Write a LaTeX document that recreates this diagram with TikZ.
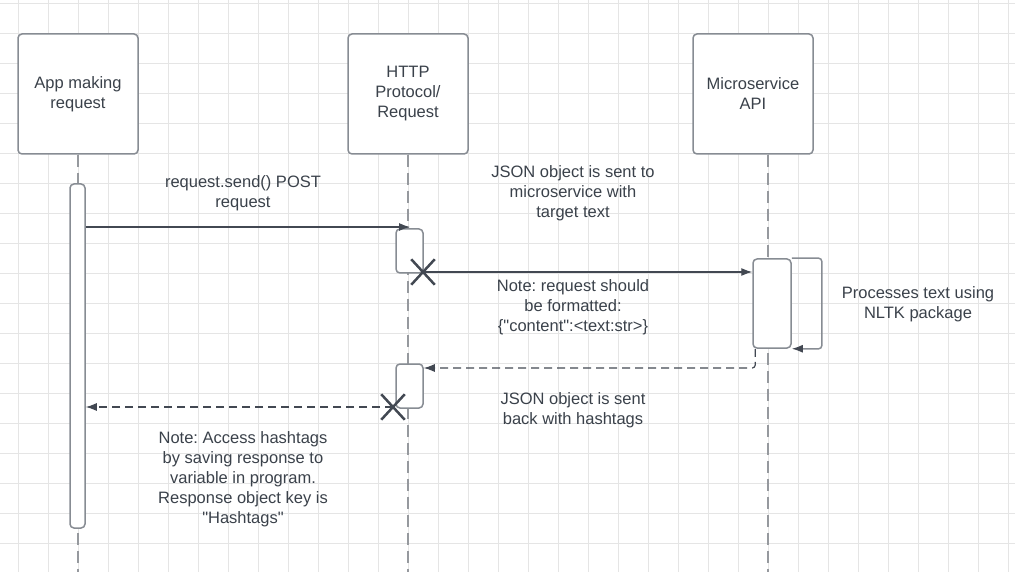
\documentclass[tikz,border=0pt]{standalone}
\usepackage{fontspec}
\setmainfont{Liberation Sans}
\usepackage{xcolor}
\definecolor{lc_text}{RGB}{58,65,74}
\definecolor{lc_box}{RGB}{135,140,147}
\definecolor{lc_line}{RGB}{66,72,82}
\definecolor{lc_life}{RGB}{150,153,158}
\definecolor{lc_grid}{RGB}{229,229,229}
\usetikzlibrary{arrows.meta, shapes.misc, calc}
\frenchspacing

\begin{document}
\begin{tikzpicture}[x=1pt,y=-1pt,font=\fontsize{16.5}{20}\selectfont,
    every node/.style={text=lc_text},
    actor/.style={draw=lc_box,line width=1.5pt,rounded corners=4pt,fill=white,
        minimum width=120pt,minimum height=120pt,align=center},
    actbar/.style={draw=lc_box,line width=1.5pt,rounded corners=4pt,fill=white,inner sep=0pt},
    lifeline/.style={draw=lc_life,line width=1.5pt,dash pattern=on 12pt off 6pt},
    msg/.style={draw=lc_line,line width=1.2pt,-{Latex[length=11pt,width=8pt]}},
    reply/.style={msg,dash pattern=on 8pt off 5pt},
    selfcall/.style={draw=lc_box,line width=1.5pt,rounded corners=3pt,-{Latex[length=11pt,width=8pt,color=lc_line]}},
    xmark/.style={cross out,draw=lc_line,line width=2.5pt,minimum width=21pt,minimum height=23pt,inner sep=0pt},
    lbl/.style={align=center}]
    \useasboundingbox (0,0) rectangle (1015,572);
    %グリッド
    \foreach \gx in {18,48,...,1008} \draw[lc_grid] (\gx,0)--(\gx,572);
    \foreach \gy in {3,33,...,543} \draw[lc_grid] (0,\gy)--(1015,\gy);
    %ライフライン
    \node[actor] (app) at (78,94) {App making\\request};
    \node[actor] (http) at (408,94) {HTTP\\Protocol/\\Request};
    \node[actor] (api) at (753,94) {Microservice\\API};
    \draw[lifeline] (app.south)--(app.south |- 0,572);
    \draw[lifeline] (http.south)--(http.south |- 0,572);
    \draw[lifeline] ($(api.south)+(15,0)$)--($(api.south |- 0,572)+(15,0)$);
    %活性化ボックス
    \node[actbar,minimum width=15pt,minimum height=344pt] (act1) at (77.5,356) {};
    \node[actbar,minimum width=27pt,minimum height=44pt] (act2a) at (409.5,251) {};
    \node[actbar,minimum width=38pt,minimum height=89pt] (act3) at (772,303.5) {};
    \node[actbar,minimum width=27pt,minimum height=44pt] (act2b) at (409.5,386) {};
    %メッセージ
    \coordinate (m1) at (410,227);
    \draw[msg] (act1.east |- m1)--(m1);
    \node[xmark] (x1) at (423,272) {};
    \draw[msg] (x1.center)--(act3.west |- x1.center);
    \draw[selfcall] (act3.north east)--++(30,0) |- (act3.south east);
    \coordinate (r1) at (423,368);
    \draw[reply,rounded corners=3pt] ($(act3.south west)+(3,0)$) |- (act2b.east |- r1);
    \node[xmark] (x2) at (393,407) {};
    \draw[reply] (x2.center)--(act1.east |- x2.center);
    %ラベル
    \node[lbl] (lsend) at (243,193) {request.send() POST\\request};
    \node[lbl] (ljson) at (573,193) {JSON object is sent to\\microservice with\\target text};
    \node[lbl] (lnote1) at (573,307) {Note: request should\\be formatted:\\\{\textquotedbl content\textquotedbl:<text:str>\}};
    \node[lbl] (lproc) at (918,304) {Processes text using\\NLTK package};
    \node[lbl] (lback) at (573,410) {JSON object is sent\\back with hashtags};
    \node[lbl] (lnote2) at (243,479) {Note: Access hashtags\\by saving response to\\variable in program.\\Response object key is\\\textquotedbl Hashtags\textquotedbl};
\end{tikzpicture}
\end{document}
